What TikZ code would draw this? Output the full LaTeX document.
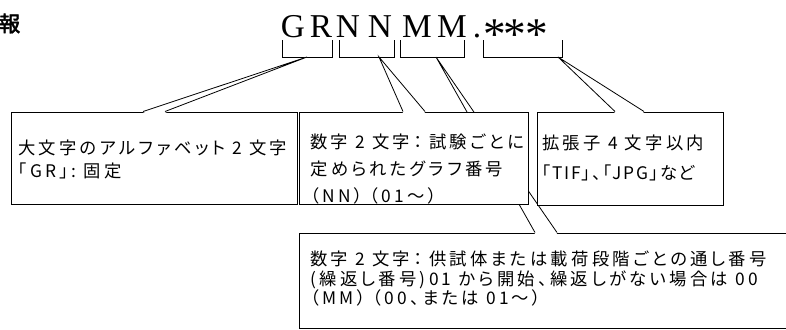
\documentclass[tikz,border=0pt]{standalone}
\usepackage{fontspec}
\setmainfont{Liberation Serif}
\newfontfamily\jpfont[LetterSpace=19,RawFeature=+palt]{Noto Sans CJK JP}
\newfontfamily\jpnarrow[LetterSpace=9,RawFeature=+palt]{Noto Sans CJK JP}
\newfontfamily\jphead[FakeBold=2.5]{Noto Sans CJK JP}
\usetikzlibrary{fit}

\tikzset{
  callbox/.style={draw,fill=white,line width=0.75pt,inner sep=0pt},
  calltext/.style={anchor=base west,align=left,inner sep=0pt,
    execute at begin node={\lineskiplimit=-100pt\lineskip=0pt}},
  glyph/.style={anchor=base,inner sep=0pt,font=\fontsize{25}{25}\selectfont},
  lead/.style={line width=0.6pt},
}

\begin{document}
\begin{tikzpicture}[x=0.75pt,y=-0.75pt]
  \useasboundingbox (0,0) rectangle (786,329);

  % heading, cut off at the left edge
  \node[anchor=base east,inner sep=0pt,font=\jphead\fontsize{16}{16}\selectfont] (head) at (20.5,31.5) {報};

  % file name, letter by letter
  \foreach \ch/\x [count=\i] in {G/293,R/321,N/348,N/380,M/417,M/452,./477}
    \node[glyph] (c\i) at (\x,37) {\ch};
  \foreach \x [count=\i] in {495,515,537}
    \node[glyph,font=\fontsize{34}{34}\selectfont] (s\i) at (\x,49) {*};

  % brackets under the name
  \foreach \l/\r in {282/332,339/394,400/464,483/562}
    \draw[lead] (\l,40) |- (\r,57) -- (\r,40);
  \coordinate (grtip) at (307,57);
  \coordinate (nntip) at (379,57);
  \coordinate (mmtip) at (436,57);
  \coordinate (exttip) at (558,57);

  % bottom callout first, the others lie over its pointer
  \node[callbox,fit={(299,233) (795,328)}] (mmbox) {};
  \coordinate (mma) at (535,0 |- mmbox.north);
  \coordinate (mmb) at (557,0 |- mmbox.north);
  \fill[white] ([yshift=-1pt]mma) -- (mmtip) -- ([yshift=-1pt]mmb) -- cycle;
  \draw[lead] (mma) -- (mmtip) -- (mmb);
  % node base = baseline of the last line
  \node[calltext,font=\jpfont\fontsize{13}{15.75}\selectfont] (mmtext) at (310,304.5)
    {数字 2 文字： 供試体または載荷段階ごとの通し番号\\[-1.2pt](繰返し番号)01 から開始、繰返しがない場合は 00\\[-1.2pt]（MM） （00、または 01～）};

  \node[callbox,fit={(11,112) (297,204)}] (grbox) {};
  \node[callbox,fit={(299,112) (528,204)}] (nnbox) {};
  \node[callbox,fit={(537,112) (723,205)}] (extbox) {};

  \foreach \b/\t/\xa/\xb in {grbox/grtip/143/165,nnbox/nntip/403/425,extbox/exttip/615/644} {
    \coordinate (\b a) at (\xa,0 |- \b.north);
    \coordinate (\b b) at (\xb,0 |- \b.north);
    \fill[white] ([yshift=-1pt]\b a) -- (\t) -- ([yshift=-1pt]\b b) -- cycle;
    \draw[lead] (\b a) -- (\t) -- (\b b);
  }

  \node[calltext,font=\jpfont\fontsize{13}{17.25}\selectfont] (grtext) at (18,177.5)
    {大文字のアルファベット 2 文字\\「GR」: 固定};
  \node[calltext,font=\jpfont\fontsize{13}{20.4}\selectfont] (nntext) at (310,202.5)
    {数字 2 文字： 試験ごとに\\定められたグラフ番号\\（NN） （01～）};
  \node[calltext,font=\jpfont\fontsize{13}{22.5}\selectfont] (exttext) at (542,179.5)
    {拡張子 4 文字以内\\{\jpnarrow 「TIF」、「JPG」など}};
\end{tikzpicture}
\end{document}
